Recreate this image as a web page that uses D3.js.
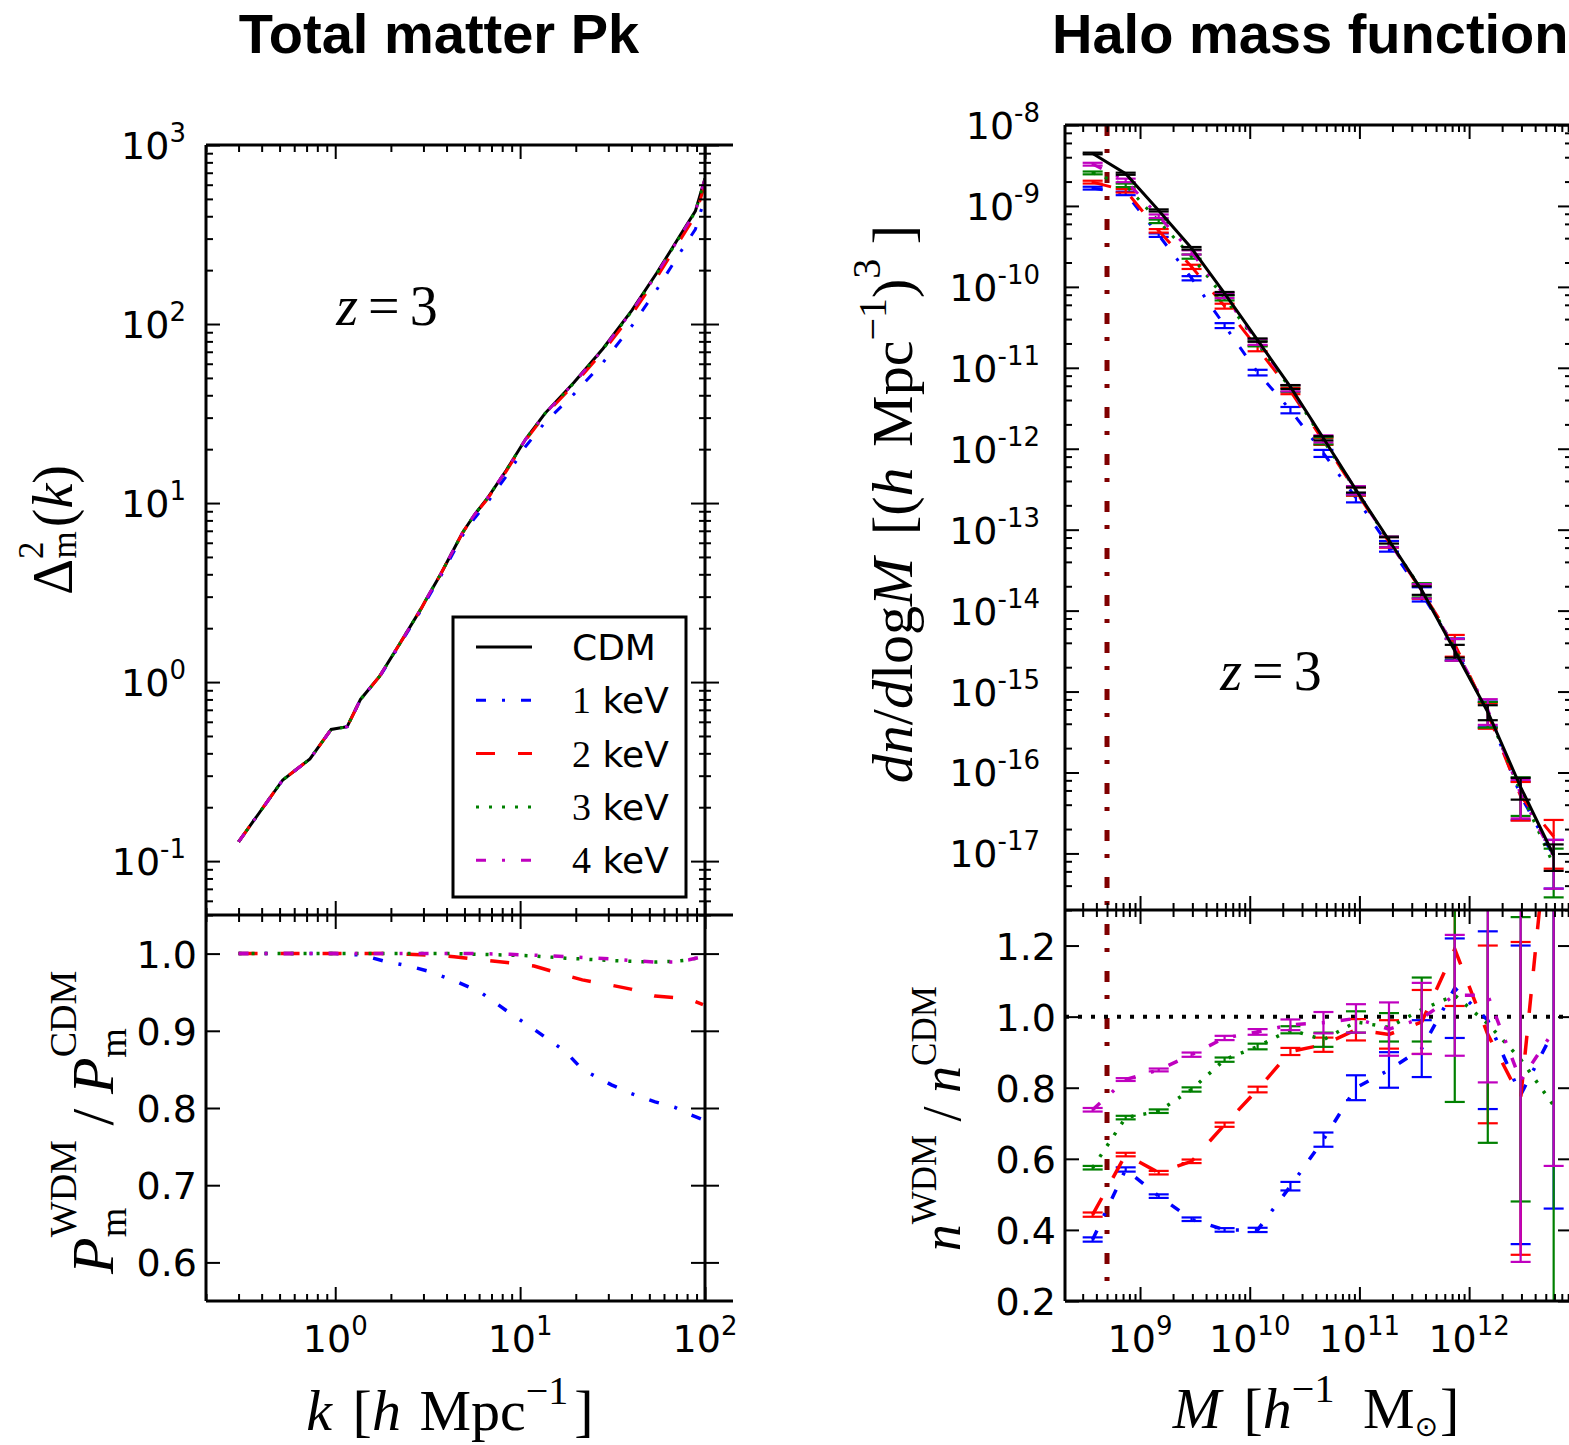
<!DOCTYPE html>
<html>
<head>
<meta charset="utf-8">
<script src="https://cdn.jsdelivr.net/npm/d3@7"></script>
<style>
  body { margin: 0; background: #fff; overflow: hidden; }
  svg { display: block; }
</style>
</head>
<body>
<svg id="chart" width="1569" height="1445"></svg>
<script>
// ---------- left: total matter power spectrum ----------
const kPk = [0.3, 0.52, 0.73, 0.95, 1.16, 1.37, 1.74, 2.22, 2.92, 3.19, 3.71, 4.87, 5.66, 6.59, 8.4, 10.7, 13.6, 19.6, 28.1, 40.4, 54.7, 74, 88.7, 100];
const pkCDM  = [0.128, 0.284, 0.372, 0.544, 0.563, 0.80, 1.08, 1.62, 2.58, 3.05, 3.99, 6.8, 8.6, 10.5, 15.2, 22.7, 31.6, 47.3, 73, 120, 192, 317, 427, 650];
const pk1keV = [0.128, 0.284, 0.372, 0.544, 0.563, 0.80, 1.07, 1.60, 2.53, 2.98, 3.88, 6.55, 8.2, 9.93, 14.1, 20.7, 28.1, 40.7, 61.0, 98.2, 155, 254, 338, 510];
const pk2keV = [0.128, 0.284, 0.372, 0.544, 0.563, 0.80, 1.08, 1.62, 2.58, 3.05, 3.99, 6.79, 8.57, 10.4, 15.0, 22.4, 31.0, 45.9, 70.2, 114, 181, 299, 402, 607];
const pk3keV = [0.128, 0.284, 0.372, 0.544, 0.563, 0.80, 1.08, 1.62, 2.58, 3.05, 3.99, 6.8, 8.6, 10.5, 15.2, 22.7, 31.5, 47.0, 72.4, 118.8, 190, 314, 424, 647];
const pk4keV = [0.128, 0.284, 0.372, 0.544, 0.563, 0.80, 1.08, 1.62, 2.58, 3.05, 3.99, 6.8, 8.6, 10.5, 15.2, 22.7, 31.5, 47.1, 72.5, 118.8, 190, 314, 424, 647];

const kRatio = [0.3, 0.5, 0.7, 1.0, 1.4, 1.85, 2.5, 3.2, 4.4, 6.1, 8.8, 11.9, 17.6, 21.7, 31.2, 39.7, 53.7, 68.4, 82, 97.5];
const pkRatio1keV = [1.0, 1.0, 1.0, 1.0, 0.998, 0.990, 0.984, 0.977, 0.965, 0.950, 0.923, 0.902, 0.873, 0.850, 0.830, 0.819, 0.808, 0.801, 0.792, 0.785];
const pkRatio2keV = [1.0, 1.0, 1.0, 1.0, 1.0, 1.0, 0.999, 0.998, 0.996, 0.992, 0.988, 0.984, 0.972, 0.966, 0.959, 0.954, 0.945, 0.943, 0.941, 0.934];
const pkRatio3keV = [1.0, 1.0, 1.0, 1.0, 1.0, 1.0, 1.0, 1.0, 1.0, 0.999, 0.998, 0.997, 0.994, 0.993, 0.991, 0.990, 0.989, 0.990, 0.992, 0.996];
const pkRatio4keV = [1.0, 1.0, 1.0, 1.0, 1.0, 1.0, 1.0, 1.0, 1.0, 1.0, 0.999, 0.998, 0.996, 0.995, 0.993, 0.991, 0.989, 0.989, 0.992, 0.996];

// ---------- right: halo mass function ----------
const hmfMass = [3.7e8, 7.4e8, 1.48e9, 2.95e9, 5.9e9, 1.18e10, 2.35e10, 4.7e10, 9.3e10, 1.86e11, 3.7e11, 7.4e11, 1.48e12, 2.95e12, 5.9e12];
const hmfCDM  = [4.45e-9, 2.5e-9, 8.8e-10, 3.0e-10, 8.3e-11, 2.2e-11, 5.8e-12, 1.35e-12, 3.1e-13, 7.4e-14, 1.78e-14, 3.2e-15, 5.6e-16, 6.6e-17, 9.5e-18];
const hmf1keV = [1.66e-9, 1.43e-9, 4.36e-10, 1.28e-10, 3.33e-11, 8.75e-12, 3.01e-12, 8.8e-13, 2.47e-13, 6.3e-14, 1.62e-14, 3.49e-15, 5.57e-16, 5.15e-17, 9.2e-18];
const hmf2keV = [1.97e-9, 1.54e-9, 4.93e-10, 1.77e-10, 5.79e-11, 1.74e-11, 5.19e-12, 1.24e-12, 2.98e-13, 7.05e-14, 1.75e-14, 3.85e-15, 5.34e-16, 5.09e-17, 1.62e-17];
const hmf3keV = [2.56e-9, 1.80e-9, 6.46e-10, 2.37e-10, 7.31e-11, 2.0e-11, 5.55e-12, 1.26e-12, 3.04e-13, 7.19e-14, 1.82e-14, 3.43e-15, 5.51e-16, 5.81e-17, 7.16e-18];
const hmf4keV = [3.28e-9, 2.07e-9, 7.47e-10, 2.67e-10, 7.82e-11, 2.09e-11, 5.62e-12, 1.33e-12, 3.08e-13, 7.15e-14, 1.77e-14, 3.43e-15, 5.96e-16, 5.42e-17, 9.17e-18];
const hmfRelErr = [0.04, 0.05, 0.05, 0.06, 0.07, 0.08, 0.09, 0.1, 0.12, 0.15, 0.2, 0.3, 0.35, 0.5, 0.6];

const hmfRatio1keV = [0.373, 0.57, 0.495, 0.43, 0.40, 0.40, 0.523, 0.654, 0.80, 0.85, 0.91, 1.08, 0.99, 0.78, 0.96];
const hmfRatio2keV = [0.443, 0.612, 0.561, 0.593, 0.696, 0.795, 0.902, 0.921, 0.963, 0.95, 0.985, 1.19, 0.95, 0.77, 1.7];
const hmfRatio3keV = [0.575, 0.716, 0.734, 0.795, 0.879, 0.916, 0.963, 0.935, 0.985, 0.97, 1.02, 1.06, 0.98, 0.88, 0.75];
const hmfRatio4keV = [0.738, 0.823, 0.85, 0.893, 0.94, 0.957, 0.977, 0.983, 0.995, 0.965, 0.995, 1.06, 1.06, 0.82, 0.96];
const hmfRatioErr1keV = [0.006, 0.006, 0.005, 0.005, 0.005, 0.006, 0.012, 0.02, 0.035, 0.05, 0.08, 0.14, 0.25, 0.42, 0.5];
const hmfRatioErr2keV = [0.006, 0.005, 0.005, 0.005, 0.006, 0.008, 0.01, 0.02, 0.03, 0.04, 0.09, 0.16, 0.25, 0.44, 0.35];
const hmfRatioErr3keV = [0.005, 0.005, 0.005, 0.006, 0.006, 0.008, 0.01, 0.02, 0.03, 0.04, 0.09, 0.3, 0.335, 0.4, 0.6];
const hmfRatioErr4keV = [0.005, 0.004, 0.004, 0.006, 0.006, 0.008, 0.015, 0.03, 0.04, 0.075, 0.1, 0.17, 0.245, 0.51, 0.38];
const massLimit = 5e8;

// ---------- ticks ----------
const kTicks = [1, 10, 100];
const kTickExp = ['0', '1', '2'];
const pkTicks = [0.1, 1, 10, 100, 1000];
const pkTickExp = ['-1', '0', '1', '2', '3'];
const pkRatioTicks = [0.6, 0.7, 0.8, 0.9, 1.0];
const pkRatioLabels = ['0.6', '0.7', '0.8', '0.9', '1.0'];
const mTicks = [1e9, 1e10, 1e11, 1e12];
const mTickExp = ['9', '10', '11', '12'];
const hmfTicks = [1e-8, 1e-9, 1e-10, 1e-11, 1e-12, 1e-13, 1e-14, 1e-15, 1e-16, 1e-17];
const hmfTickExp = ['-8', '-9', '-10', '-11', '-12', '-13', '-14', '-15', '-16', '-17'];
const hmfRatioTicks = [0.2, 0.4, 0.6, 0.8, 1.0, 1.2];
const hmfRatioLabels = ['0.2', '0.4', '0.6', '0.8', '1.0', '1.2'];

const legendNames = ['CDM', '1', '2', '3', '4'];

// ---------- setup ----------
const SANS = 'DejaVu Sans, sans-serif';
const SERIF = 'Liberation Serif, DejaVu Serif, serif';
const HEAD = 'Liberation Sans, Arial, sans-serif';

const svg = d3.select('#chart');
svg.append('rect').attr('width', 1569).attr('height', 1445).attr('fill', '#fff');

const L = { x0: 206, x1: 705, xEnd: 733, yTop: 145, yMid: 915, yBot: 1301 };
const R = { x0: 1065, x1: 1572, yTop: 125, yMid: 910, yBot: 1301 };

const xk = d3.scaleLog().domain([0.2, 100]).range([L.x0, L.x1]);
const yPk = d3.scaleLog().domain([0.05, 1000]).range([L.yMid, L.yTop]);
const yPkRatio = d3.scaleLinear().domain([0.55, 1.05]).range([L.yBot, L.yMid]);
const xM = d3.scaleLog().domain([2.07e8, 8.67e12]).range([R.x0, R.x1]);
const yHmf = d3.scaleLog().domain([2e-18, 1e-8]).range([R.yMid, R.yTop]);
const yHmfRatio = d3.scaleLinear().domain([0.2, 1.3]).range([R.yBot, R.yMid]);

const styles = {
  CDM: { color: '#000', dash: null },
  k1: { color: '#0000ff', dash: '10 16 3 16' },
  k2: { color: '#ff0000', dash: '19 23' },
  k3: { color: '#008000', dash: '3 10' },
  k4: { color: '#bf00bf', dash: '10 16 3 16' }
};

const defs = svg.append('defs');
function clip(id, x0, y0, x1, y1) {
  defs.append('clipPath').attr('id', id).append('rect')
    .attr('x', x0).attr('y', y0).attr('width', x1 - x0).attr('height', y1 - y0);
  return `url(#${id})`;
}
const clipLT = clip('lt', L.x0, L.yTop, L.x1, L.yMid);
const clipLB = clip('lb', L.x0, L.yMid, L.x1, L.yBot);
const clipRT = clip('rt', R.x0, R.yTop, R.x1, R.yMid);
const clipRB = clip('rb', R.x0, R.yMid, R.x1, R.yBot);

function minorLog(lo, hi, mults) {
  const out = [];
  for (let e = Math.floor(Math.log10(lo)); e <= Math.ceil(Math.log10(hi)); e++) {
    for (const m of mults) {
      const v = m * Math.pow(10, e);
      if (v >= lo && v <= hi) out.push(v);
    }
  }
  return out;
}

function ticks(axisFn, scale, values, size, tx, ty) {
  svg.append('g')
    .attr('transform', `translate(${tx},${ty})`)
    .call(axisFn(scale).tickValues(values).tickSize(size).tickFormat(() => ''))
    .call(g => g.select('.domain').remove())
    .call(g => g.selectAll('text').remove())
    .call(g => g.selectAll('line').attr('stroke', '#000').attr('stroke-width', 2));
}

function curve(x, y, xs, ys, st, clipUrl, width) {
  const line = d3.line().x((d, i) => x(xs[i])).y(d => y(d));
  svg.append('path')
    .datum(ys)
    .attr('clip-path', clipUrl)
    .attr('fill', 'none')
    .attr('stroke', st.color)
    .attr('stroke-width', width || 3)
    .attr('stroke-dasharray', st.dash)
    .attr('d', line);
}

function errorBars(x, y, xs, lo, hi, color, clipUrl) {
  const g = svg.append('g').attr('clip-path', clipUrl)
    .attr('stroke', color).attr('stroke-width', 2.2).attr('fill', 'none');
  xs.forEach((m, i) => {
    const cx = x(m), y0 = y(lo[i]), y1 = y(hi[i]);
    g.append('line').attr('x1', cx).attr('x2', cx).attr('y1', y0).attr('y2', y1);
    g.append('line').attr('x1', cx - 10).attr('x2', cx + 10).attr('y1', y0).attr('y2', y0);
    g.append('line').attr('x1', cx - 10).attr('x2', cx + 10).attr('y1', y1).attr('y2', y1);
  });
}

function powLabel(x, y, exp, anchor) {
  const t = svg.append('text').attr('x', x).attr('y', y).attr('text-anchor', anchor)
    .attr('font-family', SANS).attr('font-size', 38).attr('fill', '#000');
  t.append('tspan').text('10');
  t.append('tspan').attr('font-size', 26).attr('dy', -17).text(exp);
}

function plainLabel(x, y, txt, anchor) {
  svg.append('text').attr('x', x).attr('y', y).attr('text-anchor', anchor)
    .attr('font-family', SANS).attr('font-size', 38).attr('fill', '#000').text(txt);
}

// ---------- left panel: data ----------
curve(xk, yPk, kPk, pkCDM, styles.CDM, clipLT);
curve(xk, yPk, kPk, pk1keV, styles.k1, clipLT);
curve(xk, yPk, kPk, pk2keV, styles.k2, clipLT);
curve(xk, yPk, kPk, pk3keV, styles.k3, clipLT);
curve(xk, yPk, kPk, pk4keV, styles.k4, clipLT);

curve(xk, yPkRatio, kRatio, pkRatio1keV, styles.k1, clipLB, 3.5);
curve(xk, yPkRatio, kRatio, pkRatio2keV, styles.k2, clipLB, 3.5);
curve(xk, yPkRatio, kRatio, pkRatio3keV, styles.k3, clipLB, 3.5);
curve(xk, yPkRatio, kRatio, pkRatio4keV, styles.k4, clipLB, 3.5);

// ---------- right panel: data ----------
svg.append('line')
  .attr('x1', xM(massLimit)).attr('x2', xM(massLimit))
  .attr('y1', R.yTop).attr('y2', R.yBot)
  .attr('stroke', '#800000').attr('stroke-width', 5)
  .attr('stroke-dasharray', '11 13 4 19');

svg.append('line')
  .attr('x1', R.x0).attr('x2', R.x1)
  .attr('y1', yHmfRatio(1)).attr('y2', yHmfRatio(1))
  .attr('stroke', '#000').attr('stroke-width', 4).attr('stroke-dasharray', '4 9');

const wdm = [
  { st: styles.k1, hmf: hmf1keV, ratio: hmfRatio1keV, err: hmfRatioErr1keV },
  { st: styles.k2, hmf: hmf2keV, ratio: hmfRatio2keV, err: hmfRatioErr2keV },
  { st: styles.k3, hmf: hmf3keV, ratio: hmfRatio3keV, err: hmfRatioErr3keV },
  { st: styles.k4, hmf: hmf4keV, ratio: hmfRatio4keV, err: hmfRatioErr4keV }
];

wdm.forEach(s => {
  errorBars(xM, yHmf, hmfMass,
    s.hmf.map((v, i) => v * (1 - hmfRelErr[i])),
    s.hmf.map((v, i) => v * (1 + hmfRelErr[i])), s.st.color, clipRT);
  curve(xM, yHmf, hmfMass, s.hmf, s.st, clipRT);
});
errorBars(xM, yHmf, hmfMass,
  hmfCDM.map((v, i) => v * (1 - hmfRelErr[i] * 0.6)),
  hmfCDM.map((v, i) => v * (1 + hmfRelErr[i] * 0.6)), '#000', clipRT);
curve(xM, yHmf, hmfMass, hmfCDM, styles.CDM, clipRT);

wdm.forEach(s => {
  curve(xM, yHmfRatio, hmfMass, s.ratio, s.st, clipRB, 3.5);
  errorBars(xM, yHmfRatio, hmfMass,
    s.ratio.map((v, i) => v - s.err[i]),
    s.ratio.map((v, i) => v + s.err[i]), s.st.color, clipRB);
});

// ---------- spines ----------
const spines = svg.append('g').attr('stroke', '#000').attr('stroke-width', 3);
[[L.x0, L.yTop, L.xEnd, L.yTop], [L.x0, L.yMid, L.xEnd, L.yMid], [L.x0, L.yBot, L.xEnd, L.yBot],
 [L.x0, L.yTop, L.x0, L.yBot], [L.x1, L.yTop, L.x1, L.yBot],
 [R.x0, R.yTop, R.x1, R.yTop], [R.x0, R.yMid, R.x1, R.yMid], [R.x0, R.yBot, R.x1, R.yBot],
 [R.x0, R.yTop, R.x0, R.yBot], [R.x1, R.yTop, R.x1, R.yBot]]
  .forEach(([a, b, c, d]) => spines.append('line').attr('x1', a).attr('y1', b).attr('x2', c).attr('y2', d));

// ---------- ticks: left ----------
const kMinor = minorLog(0.2, 100, [2, 3, 4, 5, 6, 7, 8, 9]);
const pkMinor = minorLog(0.05, 1000, [2, 3, 4, 5, 6, 7, 8, 9]);
ticks(d3.axisTop, xk, kTicks, -14, 0, L.yTop);
ticks(d3.axisTop, xk, kMinor, -7, 0, L.yTop);
ticks(d3.axisTop, xk, kTicks, 14, 0, L.yMid);
ticks(d3.axisTop, xk, kMinor, 7, 0, L.yMid);
ticks(d3.axisBottom, xk, kTicks, 14, 0, L.yMid);
ticks(d3.axisBottom, xk, kMinor, 7, 0, L.yMid);
ticks(d3.axisBottom, xk, kTicks, -14, 0, L.yBot);
ticks(d3.axisBottom, xk, kMinor, -7, 0, L.yBot);
ticks(d3.axisLeft, yPk, pkTicks, -14, L.x0, 0);
ticks(d3.axisLeft, yPk, pkMinor, -7, L.x0, 0);
ticks(d3.axisRight, yPk, pkTicks, -14, L.x1, 0);
ticks(d3.axisRight, yPk, pkTicks, 14, L.x1, 0);
ticks(d3.axisRight, yPk, pkMinor, -6, L.x1, 0);
ticks(d3.axisRight, yPk, pkMinor, 6, L.x1, 0);
ticks(d3.axisLeft, yPkRatio, pkRatioTicks, -14, L.x0, 0);
ticks(d3.axisRight, yPkRatio, pkRatioTicks, -14, L.x1, 0);
ticks(d3.axisRight, yPkRatio, pkRatioTicks, 14, L.x1, 0);

// ---------- ticks: right ----------
const mMinor = minorLog(2.07e8, 8.67e12, [2, 3, 4, 5, 6, 7, 8, 9]);
const hmfMinor = minorLog(2e-18, 1e-8, [2, 4, 6, 8]);
ticks(d3.axisTop, xM, mTicks, -14, 0, R.yTop);
ticks(d3.axisTop, xM, mMinor, -7, 0, R.yTop);
ticks(d3.axisTop, xM, mTicks, 14, 0, R.yMid);
ticks(d3.axisTop, xM, mMinor, 7, 0, R.yMid);
ticks(d3.axisBottom, xM, mTicks, 14, 0, R.yMid);
ticks(d3.axisBottom, xM, mMinor, 7, 0, R.yMid);
ticks(d3.axisBottom, xM, mTicks, -14, 0, R.yBot);
ticks(d3.axisBottom, xM, mMinor, -7, 0, R.yBot);
ticks(d3.axisLeft, yHmf, hmfTicks, -14, R.x0, 0);
ticks(d3.axisLeft, yHmf, hmfMinor, -7, R.x0, 0);
ticks(d3.axisRight, yHmf, hmfTicks, -14, R.x1, 0);
ticks(d3.axisRight, yHmf, hmfMinor, -7, R.x1, 0);
ticks(d3.axisLeft, yHmfRatio, hmfRatioTicks, -14, R.x0, 0);
ticks(d3.axisRight, yHmfRatio, hmfRatioTicks, -14, R.x1, 0);

// ---------- tick labels ----------
pkTicks.forEach((v, i) => powLabel(186, yPk(v) + 14, pkTickExp[i], 'end'));
pkRatioTicks.forEach((v, i) => plainLabel(197, yPkRatio(v) + 14, pkRatioLabels[i], 'end'));
kTicks.forEach((v, i) => powLabel(xk(v), 1352, kTickExp[i], 'middle'));
hmfTicks.forEach((v, i) => powLabel(1040, yHmf(v) + 14, hmfTickExp[i], 'end'));
hmfRatioTicks.forEach((v, i) => plainLabel(1056, yHmfRatio(v) + 14, hmfRatioLabels[i], 'end'));
mTicks.forEach((v, i) => powLabel(xM(v), 1352, mTickExp[i], 'middle'));

// ---------- titles ----------
svg.append('text').attr('x', 439).attr('y', 53).attr('text-anchor', 'middle')
  .attr('font-family', HEAD).attr('font-weight', 'bold').attr('font-size', 56).text('Total matter Pk');
svg.append('text').attr('x', 1052).attr('y', 53).attr('text-anchor', 'start')
  .attr('font-family', HEAD).attr('font-weight', 'bold').attr('font-size', 56).text('Halo mass function');

// ---------- axis labels ----------
function mathText(transform, size) {
  return svg.append('text').attr('transform', transform).attr('text-anchor', 'middle')
    .attr('font-family', SERIF).attr('font-size', size).attr('fill', '#000');
}
function ts(t, txt, o = {}) {
  const s = t.append('tspan').text(txt);
  if (o.size) s.attr('font-size', o.size);
  if (o.it) s.attr('font-style', 'italic');
  if (o.dx) s.attr('dx', o.dx);
  if (o.dy) s.attr('dy', o.dy);
  if (o.fam) s.attr('font-family', o.fam);
  return s;
}

// Delta^2_m(k)
let t = mathText('translate(72,530) rotate(-90)', 56);
ts(t, 'Δ');
ts(t, '2', { size: 35, dy: -29 });
ts(t, 'm', { size: 35, dx: -17, dy: 33 });
ts(t, '(', { dy: -4, dx: 4 });
ts(t, 'k', { it: true });
ts(t, ')');

// P^WDM_m / P^CDM_m
t = mathText('translate(113,1115) rotate(-90)', 60);
ts(t, 'P', { it: true });
ts(t, 'WDM', { size: 38, dy: -37 });
ts(t, 'm', { size: 38, dx: -97, dy: 50 });
ts(t, ' / ', { dx: 67, dy: -13 });
ts(t, 'P', { it: true });
ts(t, 'CDM', { size: 38, dy: -37 });
ts(t, 'm', { size: 38, dx: -87, dy: 50 });
ts(t, '\u00a0', { dx: 57, dy: -13 });

// k [h Mpc^-1]
t = mathText('translate(450,1430)', 58);
ts(t, 'k', { it: true });
ts(t, ' [', { dx: 6 });
ts(t, 'h', { it: true });
ts(t, ' Mpc', { dx: 4 });
ts(t, '−1', { size: 40, dy: -26 });
ts(t, ']', { dy: 26, dx: 6 });

// dn/dlogM [(h Mpc^-1)^3]
t = mathText('translate(912,504) rotate(-90)', 58);
ts(t, 'dn', { it: true });
ts(t, '/');
ts(t, 'd', { it: true });
ts(t, 'log');
ts(t, 'M', { it: true });
ts(t, ' [(', { dx: 8 });
ts(t, 'h', { it: true });
ts(t, ' Mpc', { dx: 6 });
ts(t, '−1', { size: 40, dy: -26 });
ts(t, ')', { dy: 26 });
ts(t, '3', { size: 40, dy: -32 });
ts(t, ' ]', { dy: 32 });

// n^WDM / n^CDM
t = mathText('translate(960,1112) rotate(-90)', 54);
ts(t, 'n', { it: true });
ts(t, 'WDM', { size: 35, dy: -24 });
ts(t, ' / ', { dy: 24 });
ts(t, 'n', { it: true });
ts(t, 'CDM', { size: 35, dy: -24 });
ts(t, '\u00a0', { dy: 24 });

// M [h^-1 M_sun]
t = mathText('translate(1316,1428)', 58);
ts(t, 'M', { it: true });
ts(t, ' [', { dx: 8 });
ts(t, 'h', { it: true });
ts(t, '−1', { size: 40, dy: -26 });
ts(t, ' M', { dx: 14, dy: 26 });
ts(t, '⊙', { size: 28, dy: 8, fam: 'DejaVu Sans, sans-serif' });
ts(t, ']', { dy: -8, dx: 2 });

// z = 3
[[387, 325], [1271, 690]].forEach(([x, y]) => {
  const z = mathText(`translate(${x},${y})`, 56);
  ts(z, 'z', { it: true });
  ts(z, '=', { dx: 10 });
  ts(z, '3', { dx: 10 });
});

// ---------- legend ----------
const leg = svg.append('g');
leg.append('rect').attr('x', 453).attr('y', 617).attr('width', 233).attr('height', 280)
  .attr('fill', '#fff').attr('stroke', '#000').attr('stroke-width', 3);
const legStyles = [styles.CDM, styles.k1, styles.k2, styles.k3, styles.k4];
legendNames.forEach((name, i) => {
  const y = 647 + i * 53.3;
  leg.append('line').attr('x1', 476).attr('x2', 532).attr('y1', y).attr('y2', y)
    .attr('stroke', legStyles[i].color).attr('stroke-width', 3)
    .attr('stroke-dasharray', legStyles[i].dash);
  const tx = leg.append('text').attr('x', 572).attr('y', y + 13)
    .attr('font-family', SANS).attr('font-size', 36).attr('fill', '#000');
  if (name === 'CDM') {
    tx.text(name);
  } else {
    tx.append('tspan').attr('font-family', SERIF).attr('font-size', 38).text(name);
    tx.append('tspan').text(' keV');
  }
});
</script>
</body>
</html>
